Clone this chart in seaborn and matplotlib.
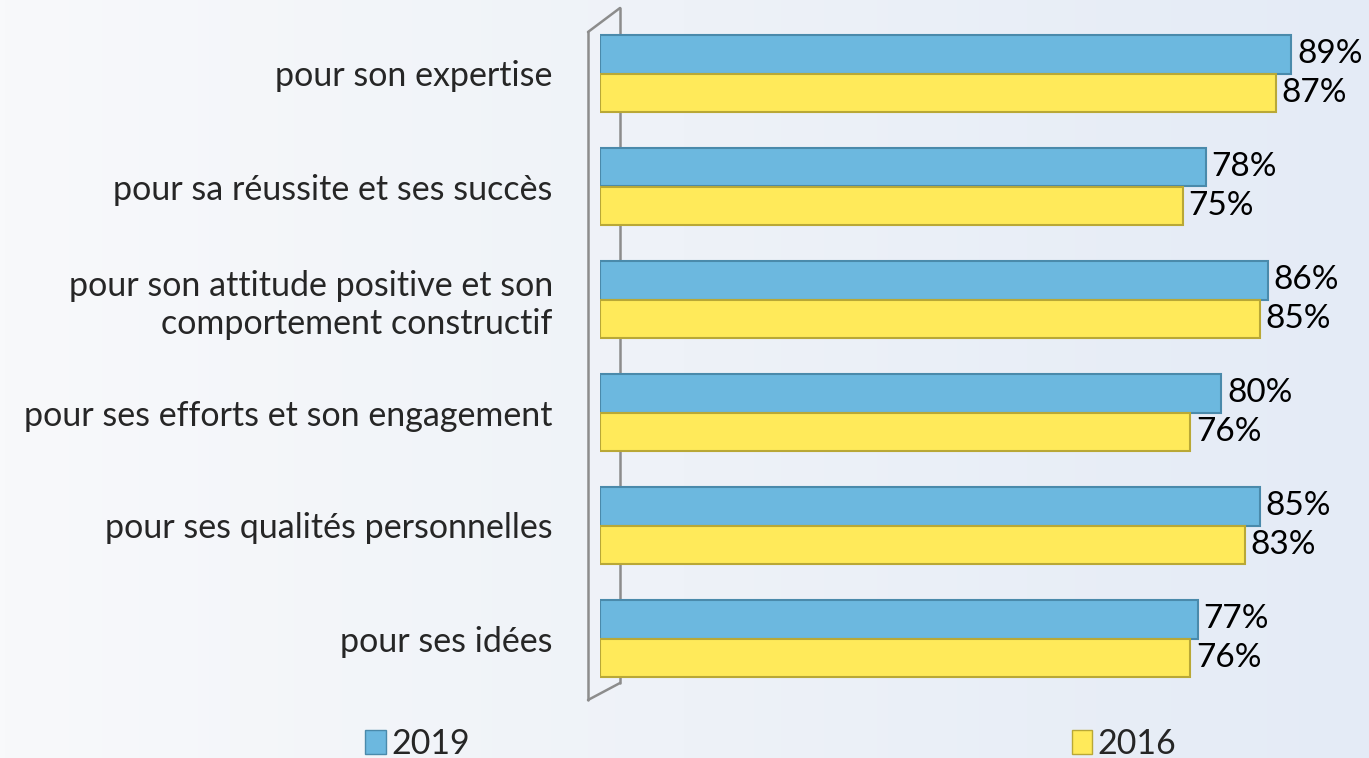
import matplotlib as mpl
import matplotlib.pyplot as plt
import seaborn as sns
import numpy as np
import pandas as pd
from matplotlib.lines import Line2D
from matplotlib.patches import Patch
plt.ioff()

categories = [
    "pour son expertise",
    "pour sa réussite et ses succès",
    "pour son attitude positive et son\ncomportement constructif",
    "pour ses efforts et son engagement",
    "pour ses qualités personnelles",
    "pour ses idées",
]
years = ["2019", "2016"]
values_2019 = [89, 78, 86, 80, 85, 77]
values_2016 = [87, 75, 85, 76, 83, 76]

df = pd.DataFrame({
    "cat": categories * 2,
    "year": [years[0]] * 6 + [years[1]] * 6,
    "val": values_2019 + values_2016,
})

sns.set_theme(style="white")
plt.rcParams["font.family"] = ["Lato", "DejaVu Sans"]

W, H = 1369, 758
fig = plt.figure(figsize=(W / 100, H / 100), dpi=100)

# background gradient
bg = fig.add_axes([0, 0, 1, 1], zorder=-10)
grad = np.linspace(0, 1, 256)[None, :]
cmap = mpl.colors.LinearSegmentedColormap.from_list("bg", ["#f8f9fb", "#eef2f8", "#e4ebf6"])
bg.imshow(grad, aspect="auto", cmap=cmap, extent=[0, 1, 0, 1])
bg.axis("off")

# 3d-ish wall outline
def px(x, y):
    return x / W, 1 - y / H
wall = [((588, 32), (588, 700)), ((588, 32), (620, 8)), ((620, 8), (620, 683)), ((588, 700), (620, 683))]
for (a, b) in wall:
    (x0, y0), (x1, y1) = px(*a), px(*b)
    fig.add_artist(Line2D([x0, x1], [y0, y1], color="#8c8c8c", lw=1.8, zorder=-5))

left = 600 / W
ax = fig.add_axes([left, 1 - 695 / H, 1 - left, 678 / H])
ax.patch.set_alpha(0)

palette = {"2019": "#6cb8df", "2016": "#ffea5a"}
sns.barplot(data=df, y="cat", x="val", hue="year", hue_order=years, order=categories,
            palette=palette, orient="h", width=0.68, saturation=1, ax=ax,
            edgecolor="none", legend=False)

edge = {"2019": "#4a8aab", "2016": "#b9a836"}
for cont, yr in zip(ax.containers, years):
    for bar in cont:
        bar.set_edgecolor(edge[yr])
        bar.set_linewidth(1.5)
    ax.bar_label(cont, labels=[f"{int(v)}%" for v in cont.datavalues], padding=4,
                 fontsize=24, color="black")

ax.set_xlim(0, 99)
ax.set_ylim(5.5, -0.5)
ax.set_xlabel("")
ax.set_ylabel("")
ax.set_xticks([])
ax.tick_params(axis="y", length=0, pad=34, labelsize=24.5)
for lbl in ax.get_yticklabels():
    lbl.set_horizontalalignment("right")
    lbl.set_multialignment("right")
for s in ax.spines.values():
    s.set_visible(False)

handles = [Patch(facecolor=palette[y], edgecolor=edge[y], label=y) for y in years]
fig.legend(handles=handles, loc="lower center", bbox_to_anchor=(0.563, -0.043), ncol=2,
           frameon=False, fontsize=24.5, columnspacing=17.7, handlelength=0.6, handleheight=0.7,
           handletextpad=0.15)

fig.savefig("out.png", dpi=100)
